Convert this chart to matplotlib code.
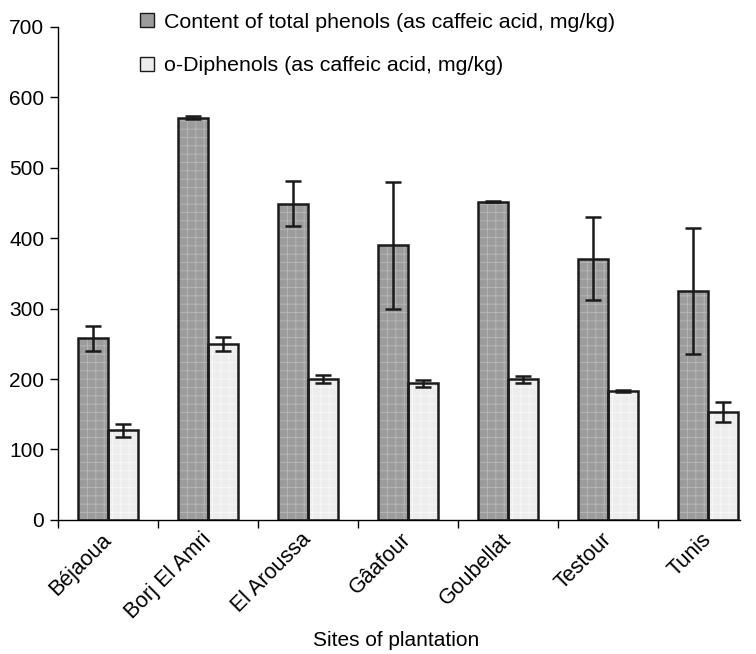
import numpy as np
import matplotlib.pyplot as plt
from matplotlib.patches import Patch

plt.rcParams['font.family'] = ['Liberation Sans', 'DejaVu Sans']

# Data
sites = ['Béjaoua', 'Borj El Amri', 'El Aroussa', 'Gâafour', 'Goubellat', 'Testour', 'Tunis']
total_phenols = [258, 571, 449, 390, 452, 371, 325]
total_err = [18, 2, 32, 90, 1, 59, 89]
diphenols = [127, 250, 200, 194, 200, 183, 153]
diphenols_err = [9, 10, 6, 5, 5, 2, 14]

labels = ['Content of total phenols (as caffeic acid, mg/kg)',
          'o-Diphenols (as caffeic acid, mg/kg)']

fig = plt.figure(figsize=(7.56, 6.54), dpi=100)
ax = fig.add_axes([0.077, 0.205, 0.902, 0.754])

x = np.arange(len(sites))
w = 0.3

# Fill with a faint dot texture, then black outline on top
plt.rcParams['hatch.linewidth'] = 0.6
ax.bar(x - w / 2, total_phenols, w, color='#9c9c9c', edgecolor='#b8b8b8',
       hatch='++', linewidth=0, zorder=2)
ax.bar(x + w / 2, diphenols, w, color='#ededed', edgecolor='#f8f8f8',
       hatch='++', linewidth=0, zorder=2)
ax.bar(x - w / 2, total_phenols, w, fill=False, edgecolor='#1a1a1a',
       linewidth=1.8, zorder=3)
ax.bar(x + w / 2, diphenols, w, fill=False, edgecolor='#1a1a1a',
       linewidth=1.8, zorder=3)

ax.errorbar(x - w / 2, total_phenols, yerr=total_err, fmt='none',
            ecolor='#1a1a1a', elinewidth=1.8, capsize=5.5, capthick=1.8, zorder=4)
ax.errorbar(x + w / 2, diphenols, yerr=diphenols_err, fmt='none',
            ecolor='#1a1a1a', elinewidth=1.8, capsize=5.5, capthick=1.8, zorder=4)

ax.set_xlim(-0.5, 6.32)
ax.set_ylim(0, 700)
ax.set_yticks(range(0, 701, 100))
ax.tick_params(axis='y', labelsize=15, length=6, width=1, direction='out', pad=4)

# category boundaries carry the tick marks, names sit under the bars
ax.set_xticks(np.arange(-0.5, 6.5, 1))
ax.set_xticklabels([])
ax.tick_params(axis='x', length=6, width=1, direction='out')
ax.set_xticks(x, minor=True)
ax.set_xticklabels(sites, minor=True, rotation=45, ha='right', va='center',
                   rotation_mode='anchor', fontsize=15.5)
ax.tick_params(axis='x', which='minor', length=0, pad=12)

ax.spines['top'].set_visible(False)
ax.spines['right'].set_visible(False)
ax.spines['left'].set_linewidth(1)
ax.spines['bottom'].set_linewidth(1)

ax.set_xlabel('Sites of plantation', fontsize=15)
ax.xaxis.set_label_coords(0.495, -0.225)

handles = [Patch(facecolor='#9c9c9c', edgecolor='#1a1a1a', linewidth=1),
           Patch(facecolor='#ededed', edgecolor='#1a1a1a', linewidth=1)]
fig.legend(handles, labels, loc='upper left', bbox_to_anchor=(0.168, 1.0),
           frameon=False, fontsize=15.4, handlelength=0.65, handleheight=0.65,
           handletextpad=0.5, labelspacing=1.15, borderpad=0.1)

fig.savefig('out.png', dpi=100)
